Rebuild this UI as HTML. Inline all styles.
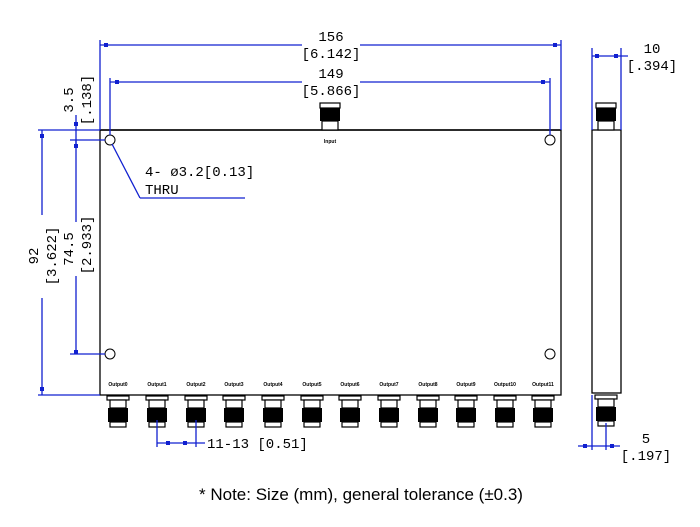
<!DOCTYPE html>
<html><head><meta charset="utf-8"><style>
html,body{margin:0;padding:0;background:#fff;}
svg{display:block;}
.d{font-family:"Liberation Mono","DejaVu Sans Mono",monospace;font-size:14px;fill:#000;}
.s{font-family:"Liberation Sans",sans-serif;font-size:5px;font-weight:bold;fill:#000;}
</style></head><body>
<svg width="700" height="527" viewBox="0 0 700 527" xmlns="http://www.w3.org/2000/svg">
<defs>
<g id="cd">
<rect x="-11" y="0" width="22" height="4" fill="#fff" stroke="#000" stroke-width="1.2"/>
<rect x="-8" y="4" width="16" height="8" fill="#fff" stroke="#000" stroke-width="1.2"/>
<rect x="-10" y="12" width="20" height="14" fill="#000"/>
<rect x="-8" y="26" width="16" height="5" fill="#fff" stroke="#000" stroke-width="1.2"/>
</g>
<g id="cu">
<rect x="-10" y="-27" width="20" height="5" fill="#fff" stroke="#000" stroke-width="1.2"/>
<rect x="-10" y="-22" width="20" height="13" fill="#000"/>
<rect x="-8" y="-9" width="16" height="9" fill="#fff" stroke="#000" stroke-width="1.2"/>
</g>
</defs>
<!-- main body -->
<rect x="100" y="130" width="461" height="265" fill="#fff" stroke="#000" stroke-width="1.3"/>
<line x1="100" y1="130" x2="561" y2="130" stroke="#000" stroke-width="1.6"/>
<use href="#cu" x="330" y="130"/>
<text x="330" y="143" class="s" text-anchor="middle">Input</text>
<g fill="none" stroke="#000" stroke-width="1">
<circle cx="110" cy="140" r="5"/><circle cx="550" cy="140" r="5"/>
<circle cx="110" cy="354" r="5"/><circle cx="550" cy="354" r="5"/>
</g>
<!-- outputs -->
<g>
<use href="#cd" x="118" y="396"/><use href="#cd" x="157" y="396"/><use href="#cd" x="196" y="396"/>
<use href="#cd" x="234" y="396"/><use href="#cd" x="273" y="396"/><use href="#cd" x="312" y="396"/>
<use href="#cd" x="350" y="396"/><use href="#cd" x="389" y="396"/><use href="#cd" x="428" y="396"/>
<use href="#cd" x="466" y="396"/><use href="#cd" x="505" y="396"/><use href="#cd" x="543" y="396"/>
</g>
<g class="s" text-anchor="middle">
<text x="118" y="386">Output0</text><text x="157" y="386">Output1</text><text x="196" y="386">Output2</text>
<text x="234" y="386">Output3</text><text x="273" y="386">Output4</text><text x="312" y="386">Output5</text>
<text x="350" y="386">Output6</text><text x="389" y="386">Output7</text><text x="428" y="386">Output8</text>
<text x="466" y="386">Output9</text><text x="505" y="386">Output10</text><text x="543" y="386">Output11</text>
</g>
<!-- side view -->
<rect x="592" y="130" width="29" height="263" fill="#fff" stroke="#000" stroke-width="1.3"/>
<use href="#cu" x="606" y="130"/>
<use href="#cd" x="606" y="395"/>
<!-- blue dimension lines -->
<g stroke="#1020d0" stroke-width="1.3" fill="none">
<line x1="100" y1="40" x2="100" y2="130"/><line x1="561" y1="40" x2="561" y2="130"/>
<line x1="100" y1="45" x2="302" y2="45"/><line x1="360" y1="45" x2="561" y2="45"/>
<line x1="110" y1="78" x2="110" y2="135"/><line x1="550" y1="78" x2="550" y2="135"/>
<line x1="110" y1="82" x2="302" y2="82"/><line x1="360" y1="82" x2="550" y2="82"/>
<line x1="38" y1="130" x2="100" y2="130"/><line x1="38" y1="395" x2="100" y2="395"/>
<line x1="42" y1="130" x2="42" y2="215"/><line x1="42" y1="298" x2="42" y2="395"/>
<line x1="70" y1="140" x2="105" y2="140"/><line x1="70" y1="354" x2="105" y2="354"/>
<line x1="76" y1="115" x2="76" y2="145"/><line x1="76" y1="140" x2="76" y2="222"/><line x1="76" y1="276" x2="76" y2="354"/>
<line x1="112" y1="144" x2="140" y2="198"/><line x1="140" y1="198" x2="245" y2="198"/>
<line x1="592" y1="48" x2="592" y2="130"/><line x1="621" y1="48" x2="621" y2="130"/>
<line x1="592" y1="56" x2="628" y2="56"/>
<line x1="592" y1="395" x2="592" y2="450"/><line x1="606" y1="423" x2="606" y2="450"/>
<line x1="578" y1="446" x2="620" y2="446"/>
<line x1="157" y1="420" x2="157" y2="447"/><line x1="196" y1="420" x2="196" y2="447"/>
<line x1="157" y1="443" x2="205" y2="443"/>
</g>
<g fill="#1020d0">
<rect x="104" y="43" width="4" height="4"/><rect x="553" y="43" width="4" height="4"/>
<rect x="115" y="80" width="4" height="4"/><rect x="541" y="80" width="4" height="4"/>
<rect x="40" y="134" width="4" height="4"/><rect x="40" y="387" width="4" height="4"/>
<rect x="74" y="122" width="4" height="4"/><rect x="74" y="144" width="4" height="4"/><rect x="74" y="350" width="4" height="4"/>
<rect x="595" y="54" width="4" height="4"/><rect x="614" y="54" width="4" height="4"/>
<rect x="583" y="444" width="4" height="4"/><rect x="610" y="444" width="4" height="4"/>
<rect x="166" y="441" width="4" height="4"/><rect x="183" y="441" width="4" height="4"/>
</g>
<!-- texts -->
<g class="d" text-anchor="middle">
<text x="331" y="41">156</text><text x="331" y="58">[6.142]</text>
<text x="331" y="78">149</text><text x="331" y="95">[5.866]</text>
<text x="652" y="53">10</text><text x="652" y="70">[.394]</text>
<text x="646" y="443">5</text><text x="646" y="460">[.197]</text>
</g>
<text class="d" x="145" y="176">4- ø3.2[0.13]</text>
<text class="d" x="145" y="194">THRU</text>
<text class="d" x="207" y="448">11-13 [0.51]</text>
<g class="d" text-anchor="middle">
<text transform="translate(38,256) rotate(-90)">92</text>
<text transform="translate(56,256) rotate(-90)">[3.622]</text>
<text transform="translate(73,249) rotate(-90)">74.5</text>
<text transform="translate(91,245) rotate(-90)">[2.933]</text>
<text transform="translate(73,100) rotate(-90)">3.5</text>
<text transform="translate(91,100) rotate(-90)">[.138]</text>
</g>
<text x="361" y="500" font-family="Liberation Sans, sans-serif" font-size="17" text-anchor="middle" fill="#000">* Note: Size (mm), general tolerance (±0.3)</text>
</svg>
</body></html>
